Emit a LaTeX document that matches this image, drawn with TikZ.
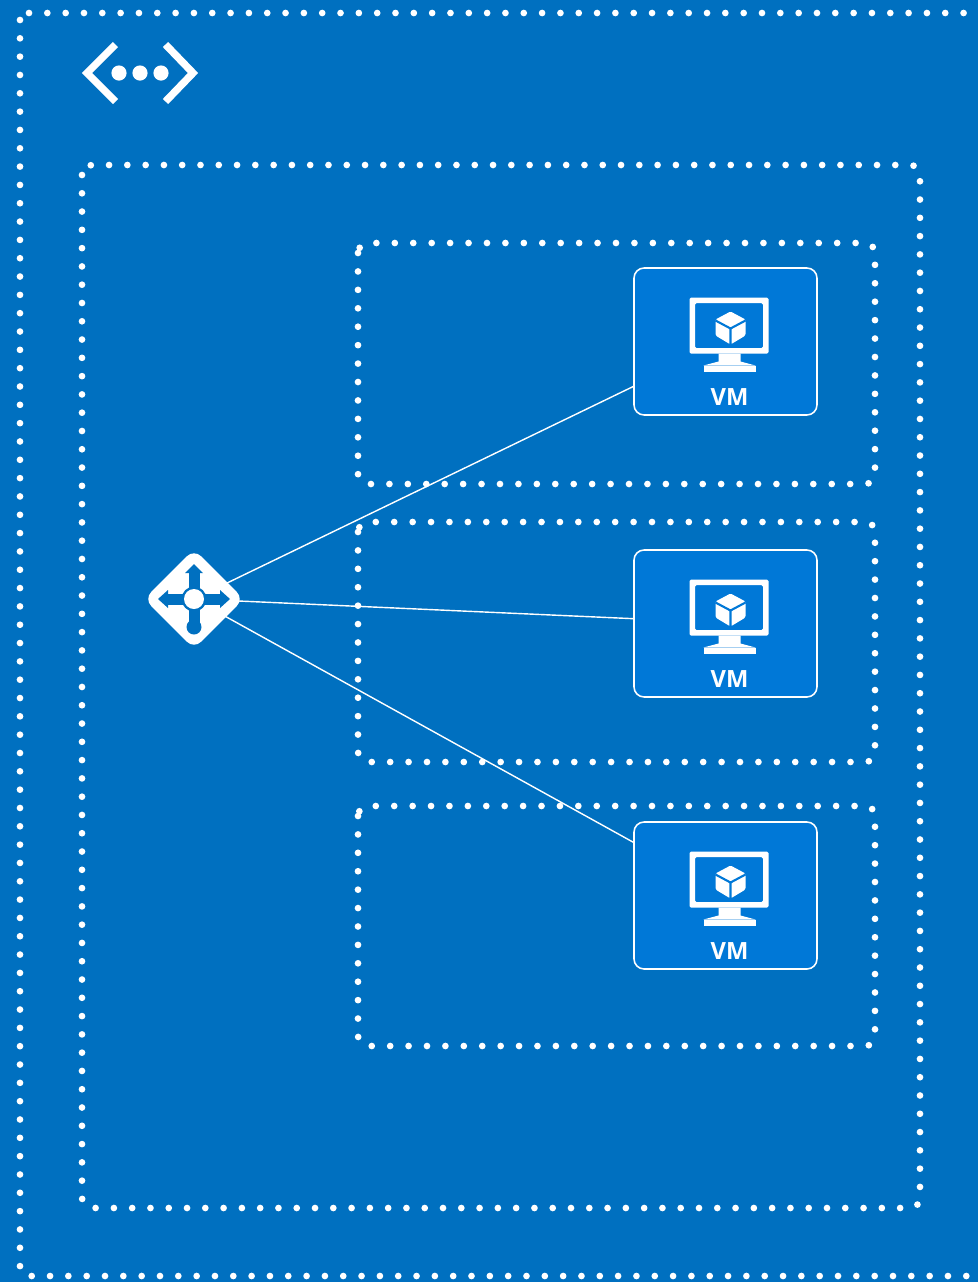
\documentclass[tikz,border=0pt]{standalone}
\usepackage{fontspec}
\setmainfont{Open Sans}
\usetikzlibrary{shapes.geometric}
\definecolor{netblue}{HTML}{0070C0}
\definecolor{vmblue}{HTML}{0078D7}
\tikzset{
 dotbox/.style={draw=white,line width=3.8pt,line cap=round,dash pattern=on 0pt off #1},
 dotbox/.default=10.43pt,
 vmbox/.style={draw=white,fill=vmblue,line width=0.9pt,rounded corners=0.2cm,minimum width=3.66cm,minimum height=2.94cm,inner sep=0pt},
 lbbox/.style={diamond,aspect=1,fill=white,rounded corners=0.2cm,minimum size=2.0cm,inner sep=0pt},
 vmicon/.pic={
  \fill[white,even odd rule,rounded corners=0.03cm] (-36,-44) rectangle (43,12) (-30.5,-38.5) rectangle (37.5,6.5);
  \fill[white] (-7,12) -- (15,12) -- (15,20) -- (30,24) -- (-22,24) -- (-7,20) -- cycle;
  \fill[white] (-22,24) rectangle (30,30);
  \fill[white,rounded corners=0.03cm] (5,-30) -- (20,-22) -- (20,-6) -- (5,3) -- (-10,-6) -- (-10,-22) -- cycle;
  \draw[vmblue,line width=1.2pt] (-10,-21) -- (5,-13) -- (20,-21) (5,-13) -- (5,3);
  \node[text=white,font=\bfseries\fontsize{13.5}{15}\selectfont,inner sep=0pt] (-text) at (4,56) {VM};
 }
}
\begin{document}
\begin{tikzpicture}[x=0.02cm,y=-0.02cm]
\fill[netblue] (0,0) rectangle (978,1282);
\useasboundingbox (0,0) rectangle (978,1282);
\begin{scope}
\clip (0,0) rectangle (978,1282);
\draw[dotbox] (29,13) -- (990,13);
\draw[dotbox,rounded corners=0.15cm] (20,20) -- (20,1276) -- (990,1276);
\end{scope}
\draw[dotbox=10.407pt,rounded corners=0.2cm] (82,165) rectangle (920,1208);
\draw[dotbox=10.49pt,rounded corners=0.2cm] (358,243) rectangle (875,484);
\draw[dotbox=10.48pt,rounded corners=0.2cm] (358,522) rectangle (875,762);
\draw[dotbox=10.48pt,rounded corners=0.2cm] (358,806) rectangle (875,1046);
% address space icon
\draw[white,line width=4.2pt] (115.5,44.5) -- (87,73) -- (115.5,101.5);
\draw[white,line width=4.2pt] (165.5,44.5) -- (193,73) -- (165.5,101.5);
\fill[white] (119,73) circle (7.6) (140,73) circle (7.6) (161,73) circle (7.6);
\node[lbbox] (lb) at (194,599) {};
\node[vmbox] (vm1) at (725.5,341.5) {};
\node[vmbox] (vm2) at (725.5,623.5) {};
\node[vmbox] (vm3) at (725.5,895.5) {};
\draw[white,line width=0.8pt] (lb.center) -- (vm1.206.4);
\draw[white,line width=0.8pt] (lb.center) -- (vm2.177.2);
\draw[white,line width=0.8pt] (lb.center) -- (vm3.150.6);
\path (vm1.center) pic (vmi1) {vmicon};
\path (vm2.center) pic (vmi2) {vmicon};
\path (vm3.center) pic (vmi3) {vmicon};
% arrows inside the diamond
\begin{scope}[shift={(lb.center)},netblue]
\fill (-5.5,-27) rectangle (5.5,27);
\fill (-27,-5.5) rectangle (27,5.5);
\fill (0,-35) -- (9,-26) -- (-9,-26) -- cycle;
\fill (-36,0) -- (-26,-9) -- (-26,9) -- cycle;
\fill (36,0) -- (26,-9) -- (26,9) -- cycle;
\fill (0,28) circle (7.5);
\fill (0,0) circle (12.5);
\fill[white] (0,0) circle (10);
\end{scope}
\end{tikzpicture}
\end{document}
